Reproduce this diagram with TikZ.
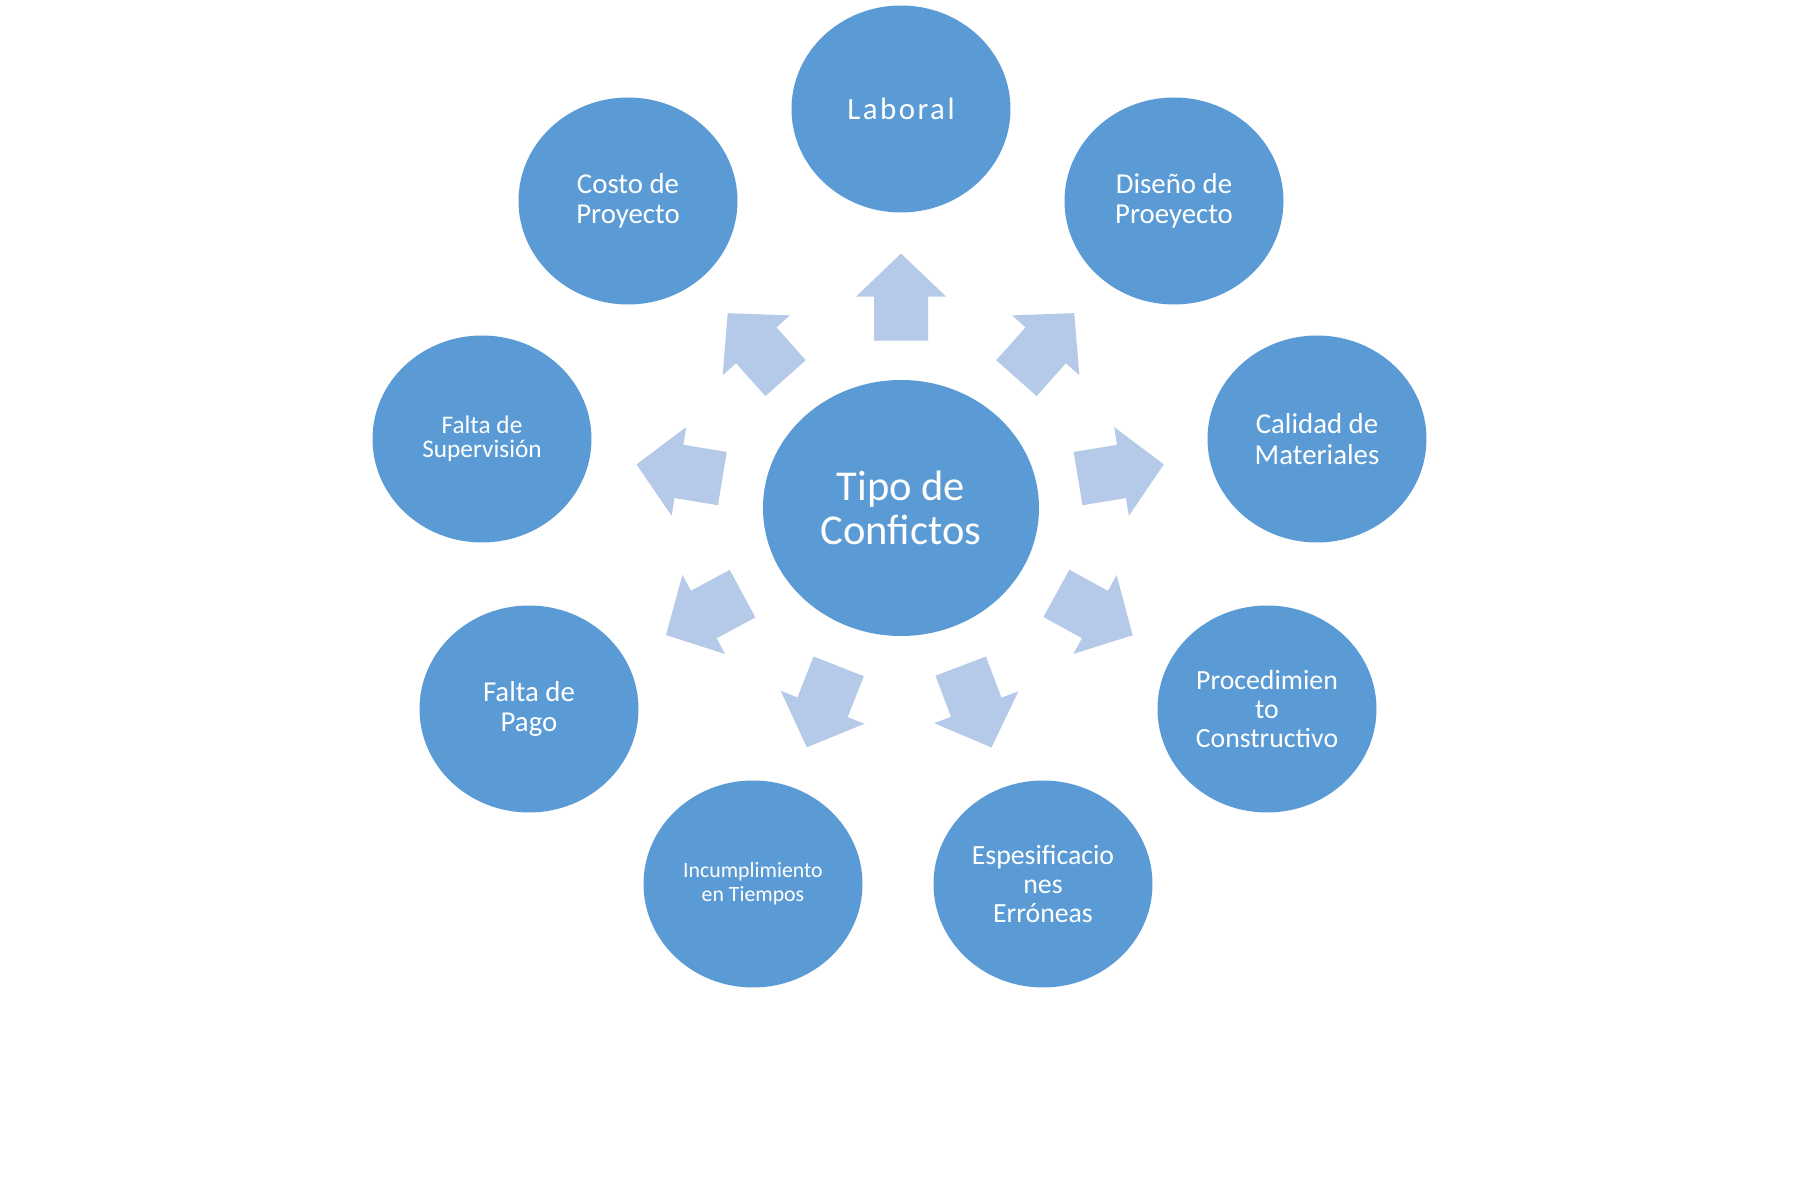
\documentclass[tikz,border=0pt]{standalone}
\usepackage{fontspec}
\setmainfont{Carlito}
\usetikzlibrary{shapes.geometric,calc}
\definecolor{nodeblue}{HTML}{5B9BD5}
\definecolor{arrowblue}{HTML}{B5C9E8}
\begin{document}
\begin{tikzpicture}[
  bubble/.style={ellipse, fill=nodeblue, text=white, inner sep=0pt,
    minimum width=2.19cm, minimum height=2.07cm, align=center},
  hub/.style={bubble, minimum width=2.76cm, minimum height=2.56cm,
    font=\fontsize{12.1}{12.6}\selectfont},
  txtL/.style={font=\fontsize{8.8}{10}\selectfont},
  txtA/.style={font=\fontsize{8.2}{8.7}\selectfont},
  txtB/.style={font=\fontsize{7.9}{8.3}\selectfont},
  txtC/.style={font=\fontsize{7.2}{6.9}\selectfont},
  txtD/.style={font=\fontsize{6.2}{6.9}\selectfont},
  flow/.style={fill=arrowblue}
]
\useasboundingbox (0,0) rectangle (18,12);
\node[hub] (c) at (9.01,6.92) {Tipo de\\Confictos};
\node[bubble, txtL] (lab) at (9.01,10.91) {\addfontfeature{LetterSpace=8}Laboral};
\node[bubble, txtA] (cos) at (6.28,9.99) {Costo de\\Proyecto};
\node[bubble, txtA] (dis) at (11.74,9.99) {Diseño de\\Proeyecto};
\node[bubble, txtC] (sup) at (4.82,7.61) {Falta de\\Supervisión};
\node[bubble, txtA] (cal) at (13.17,7.61) {Calidad de\\Materiales};
\node[bubble, txtA] (pag) at (5.29,4.91) {Falta de\\Pago};
\node[bubble, txtB] (pro) at (12.67,4.91) {Procedimien\\to\\Constructivo};
\node[bubble, txtD] (inc) at (7.53,3.16) {Incumplimiento\\en Tiempos};
\node[bubble, txtB] (esp) at (10.43,3.16) {Espesificacio\\nes\\Erróneas};
\foreach \n in {lab,cos,dis,sup,cal,pag,pro,inc,esp}{
  \pgfmathanglebetweenpoints{\pgfpointanchor{c}{center}}{\pgfpointanchor{\n}{center}}
  \edef\ang{\pgfmathresult}
  \begin{scope}[shift={($(c)!0.53!(\n)$)}, rotate=\ang]
    \fill[flow] (-0.44,-0.27) -- (0,-0.27) -- (0,-0.45) -- (0.43,0)
      -- (0,0.45) -- (0,0.27) -- (-0.44,0.27) -- cycle;
  \end{scope}
}
\end{tikzpicture}
\end{document}
